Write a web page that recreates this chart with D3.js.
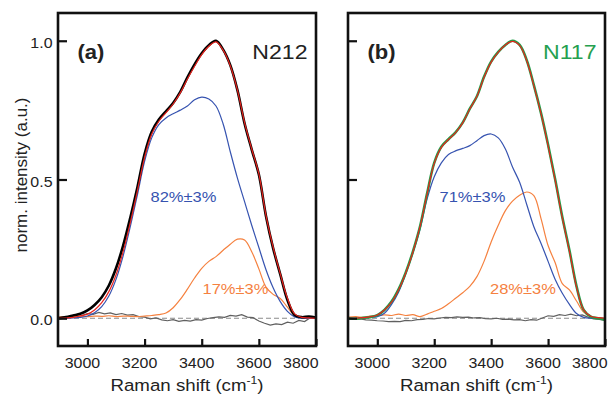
<!DOCTYPE html>
<html><head><meta charset="utf-8">
<script src="https://cdn.jsdelivr.net/npm/d3@7"></script>
<style>body{margin:0;background:#fff} svg text{font-family:"Liberation Sans",Arial,Helvetica,sans-serif}</style>
</head><body><svg id="c" width="609" height="396"></svg>
<script>
// ---- data ----
const shift = [2900,2925,2950,2975,3000,3025,3050,3075,3100,3125,3150,3175,3200,3225,3250,3275,3300,3325,3350,3375,3400,3425,3450,3475,3500,3525,3550,3575,3600,3625,3650,3675,3700,3725,3750,3775,3800];
const resShift = [2900,2920,2940,2960,2980,3000,3020,3040,3060,3080,3100,3120,3140,3160,3180,3200,3220,3240,3260,3280,3300,3320,3340,3360,3380,3400,3420,3440,3460,3480,3500,3520,3540,3560,3580,3600,3620,3640,3660,3680,3700,3720,3740,3760,3780,3800];

const a_measured = [0.000,0.004,0.010,0.016,0.028,0.048,0.076,0.118,0.180,0.262,0.362,0.472,0.592,0.672,0.716,0.746,0.776,0.816,0.868,0.915,0.955,0.984,1.000,0.968,0.912,0.822,0.702,0.608,0.518,0.368,0.252,0.158,0.066,0.012,0.004,0.006,0.002];
const a_fit      = [0.000,0.001,0.003,0.008,0.015,0.030,0.056,0.096,0.156,0.240,0.345,0.460,0.580,0.664,0.710,0.741,0.772,0.812,0.862,0.908,0.950,0.980,0.996,0.966,0.910,0.822,0.705,0.610,0.520,0.370,0.256,0.160,0.072,0.016,0.003,0.001,0.000];
const a_comp1    = [0.000,0.000,0.001,0.003,0.008,0.020,0.042,0.080,0.140,0.225,0.330,0.445,0.565,0.650,0.698,0.722,0.737,0.750,0.765,0.787,0.797,0.790,0.765,0.700,0.600,0.505,0.420,0.335,0.255,0.175,0.110,0.060,0.025,0.005,0.000,0.000,0.000];
const a_comp2    = [0.004,0.006,0.005,0.008,0.006,0.008,0.007,0.009,0.006,0.008,0.007,0.006,0.008,0.010,0.013,0.019,0.038,0.068,0.105,0.145,0.180,0.205,0.222,0.245,0.267,0.285,0.282,0.240,0.178,0.112,0.086,0.071,0.040,0.010,0.003,0.002,0.001];
const a_resid    = [0.003,0.006,0.004,0.012,0.010,0.017,0.014,0.021,0.016,0.019,0.013,0.017,0.011,0.013,0.006,0.004,-0.002,0.001,-0.006,-0.009,-0.005,-0.011,-0.008,-0.010,-0.005,-0.007,-0.001,0.002,0.005,0.003,0.010,0.008,0.013,0.004,0.002,-0.010,-0.018,-0.025,-0.020,-0.023,-0.014,-0.018,-0.008,-0.012,0.002,0.000];

const b_measured = [0.000,-0.002,0.002,0.004,0.011,0.030,0.060,0.105,0.165,0.240,0.330,0.450,0.560,0.618,0.645,0.670,0.705,0.755,0.800,0.870,0.925,0.960,0.985,1.000,0.985,0.930,0.840,0.740,0.625,0.500,0.365,0.245,0.115,0.030,0.006,0.000,-0.005];
const b_fit      = [0.000,0.000,0.002,0.005,0.012,0.030,0.058,0.103,0.163,0.238,0.330,0.448,0.558,0.616,0.644,0.669,0.704,0.754,0.800,0.868,0.923,0.959,0.985,0.998,0.983,0.928,0.838,0.738,0.622,0.497,0.362,0.242,0.112,0.030,0.007,0.002,0.000];
const b_comp1    = [0.000,0.000,0.001,0.003,0.006,0.018,0.050,0.095,0.160,0.235,0.320,0.430,0.510,0.560,0.590,0.603,0.612,0.622,0.640,0.658,0.664,0.650,0.610,0.545,0.490,0.410,0.330,0.270,0.205,0.140,0.090,0.050,0.017,0.003,0.000,0.000,0.000];
const b_comp2    = [0.004,0.006,0.003,0.008,0.009,0.012,0.010,0.015,0.010,0.013,0.006,0.015,0.025,0.035,0.052,0.072,0.092,0.115,0.150,0.205,0.275,0.335,0.388,0.422,0.443,0.455,0.442,0.360,0.262,0.200,0.125,0.102,0.062,0.022,0.006,0.002,0.000];
const b_resid    = [0.001,-0.003,-0.002,-0.006,-0.007,-0.009,-0.010,-0.012,-0.011,-0.012,-0.008,-0.009,-0.005,-0.004,-0.001,-0.002,0.001,0.003,0.002,0.005,0.003,0.004,0.001,0.002,-0.001,-0.002,0.000,-0.004,-0.003,-0.006,-0.005,-0.009,-0.005,-0.007,0.001,0.009,0.007,0.013,0.010,0.015,0.009,0.012,0.004,-0.002,-0.004,-0.008];

const xTicks = [3000,3200,3400,3600,3800];
const yTicks = [0.0,0.5,1.0];
const panelLabels = ["(a)","(b)"];
const sampleNames = ["N212","N117"];
const comp1Labels = ["82%±3%","71%±3%"];
const comp2Labels = ["17%±3%","28%±3%"];
const xTitle = "Raman shift (cm";
const yTitle = "norm. intensity (a.u.)";

// ---- drawing ----
const SX = 1.1;
const svg = d3.select("#c");
const plotTop = 13, plotBottom = 346;
const y = d3.scaleLinear().domain([-0.1,1.1]).range([plotBottom, plotTop]);

const panels = [
  {left:58, right:316, meas:a_measured, measColor:"#000000", fit:a_fit, c1:a_comp1, c2:a_comp2, res:a_resid, nameColor:"#222", ylabels:true,
   c1pos:[150.5,201.5], c2pos:[202.5,293.5]},
  {left:348, right:605, meas:b_measured, measColor:"#1f9e48", fit:b_fit, c1:b_comp1, c2:b_comp2, res:b_resid, nameColor:"#26a04f", ylabels:false,
   c1pos:[439.5,201.5], c2pos:[490,293.5]}
];

function txt(g, x, yy, s, o){
  return g.append("text")
    .attr("transform",`translate(${x},${yy}) scale(${o.sx||SX},1)`)
    .attr("text-anchor", o.anchor||"start")
    .attr("font-size", o.size)
    .attr("font-weight", o.weight||"normal")
    .attr("fill", o.fill||"#222")
    .text(s);
}

const blue = "#3653b0", orange = "#f5813f", red = "#e8231d", grayRes = "#606060";

panels.forEach((p,i)=>{
  const x = d3.scaleLinear().domain([2897,3800]).range([p.left,p.right]);
  const g = svg.append("g");
  const cid = "clip"+i;
  svg.append("clipPath").attr("id",cid).append("rect")
     .attr("x",p.left).attr("y",plotTop).attr("width",p.right-p.left).attr("height",plotBottom-plotTop);
  const pg = g.append("g").attr("clip-path",`url(#${cid})`);

  const smooth = d3.line().x((d,j)=>x(shift[j])).y(d=>y(d)).curve(d3.curveCatmullRom.alpha(0.5));
  const lin = d3.line().x((d,j)=>x(resShift[j])).y(d=>y(d));

  pg.append("line").attr("x1",p.left).attr("x2",p.right).attr("y1",y(0)).attr("y2",y(0))
    .attr("stroke","#8a8a8a").attr("stroke-width",1).attr("stroke-dasharray","5,3");
  pg.append("path").attr("d",lin(p.res)).attr("fill","none").attr("stroke",grayRes).attr("stroke-width",1.2);
  pg.append("path").attr("d",smooth(p.c2)).attr("fill","none").attr("stroke",orange).attr("stroke-width",1.2);
  pg.append("path").attr("d",smooth(p.c1)).attr("fill","none").attr("stroke",blue).attr("stroke-width",1.2);
  pg.append("path").attr("d",smooth(p.meas)).attr("fill","none").attr("stroke",p.measColor).attr("stroke-width",2.6);
  pg.append("path").attr("d",smooth(p.fit)).attr("fill","none").attr("stroke",red).attr("stroke-width",1.2);

  const xa = d3.axisBottom(x).tickValues(xTicks).tickSizeInner(-7).tickSizeOuter(0).tickPadding(12).tickFormat(d3.format("d"));
  const xg = g.append("g").attr("transform",`translate(0,${plotBottom})`).call(xa);
  xg.select(".domain").remove();
  xg.selectAll(".tick line").attr("stroke","#111").attr("stroke-width",2.2);
  xg.selectAll(".tick text").attr("font-size",14.5).attr("fill","#222")
    .attr("font-family",'"Liberation Sans",Arial,sans-serif')
    .each(function(d){
      const t = d3.select(this);
      if(d===3800){ t.attr("text-anchor","end").attr("x",2/SX); }
      else { t.attr("x",-5.5/SX); }
      t.attr("transform",`scale(${SX},1)`);
    });

  const ya = d3.axisLeft(y).tickValues(yTicks).tickSizeInner(-9).tickSizeOuter(0).tickPadding(5).tickFormat(d3.format(".1f"));
  const yg = g.append("g").attr("transform",`translate(${p.left},0)`).call(ya);
  yg.select(".domain").remove();
  yg.selectAll(".tick line").attr("stroke","#111").attr("stroke-width",2.2);
  if(p.ylabels){
    yg.selectAll(".tick text").attr("font-size",14.5).attr("fill","#222")
      .attr("font-family",'"Liberation Sans",Arial,sans-serif')
      .attr("dy","0.45em").attr("transform",`scale(${SX},1)`);
  } else {
    yg.selectAll(".tick text").remove();
  }

  g.append("rect").attr("x",p.left).attr("y",plotTop).attr("width",p.right-p.left).attr("height",plotBottom-plotTop)
    .attr("fill","none").attr("stroke","#111").attr("stroke-width",2.6);

  txt(g, p.left+19.5, 59, panelLabels[i], {size:20, weight:"bold", fill:"#222"});
  txt(g, p.right-8.5, 58.5, sampleNames[i], {size:21, anchor:"end", fill:p.nameColor});
  txt(g, p.c1pos[0], p.c1pos[1], comp1Labels[i], {size:15, fill:blue});
  txt(g, p.c2pos[0], p.c2pos[1], comp2Labels[i], {size:15, fill:orange});

  const cx = (p.left+p.right)/2;
  const tt = g.append("text").attr("transform",`translate(${cx},390.5) scale(${SX},1)`)
    .attr("text-anchor","middle").attr("font-size",17).attr("fill","#222");
  tt.append("tspan").text(xTitle);
  tt.append("tspan").attr("font-size",11).attr("dy",-7).text("-1");
  tt.append("tspan").attr("dy",7).text(")");
});

svg.append("text").attr("transform","translate(26.5,175) rotate(-90)")
  .attr("text-anchor","middle").attr("font-size",17).attr("fill","#222").text(yTitle);
</script></body></html>
